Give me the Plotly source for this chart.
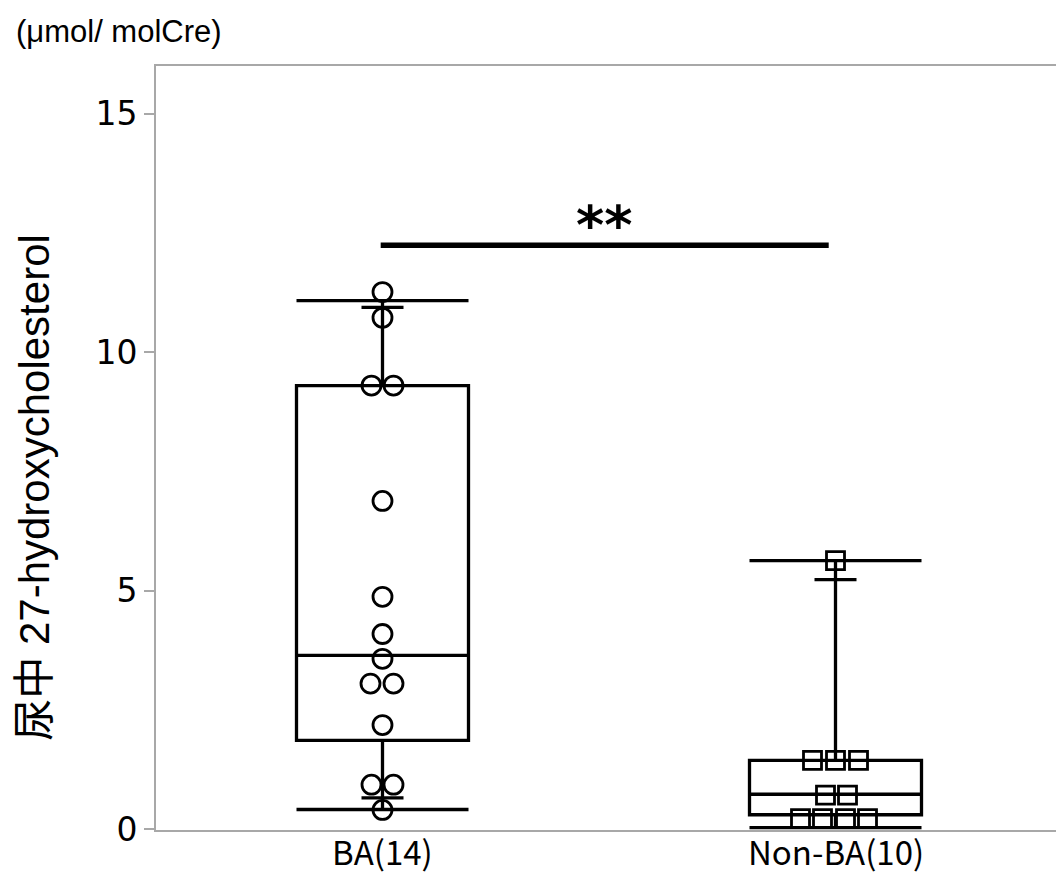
import plotly.graph_objects as go

# Groups and observed values (µmol/molCre)
categories = ["BA(14)", "Non-BA(10)"]
ba_values = [11.26, 10.72, 9.30, 9.30, 6.88, 4.87, 4.09, 3.57, 3.05, 3.05, 2.18, 0.93, 0.93, 0.40]
nonba_values = [5.63, 1.44, 1.44, 1.44, 0.71, 0.71, 0.22, 0.22, 0.22, 0.22]

# Box summaries per group
q1 = [1.86, 0.30]
median = [3.64, 0.73]
q3 = [9.30, 1.44]
lowerfence = [0.41, 0.03]
upperfence = [11.08, 5.63]

# Short quantile marks on the whiskers
ba_marks = [10.94, 0.655]
nonba_marks = [5.23]

# Significance bracket
sig_level = 12.24
sig_label = "**"

y_ticks = [0, 5, 10, 15]

# Layout geometry
W, H = 1056, 877
L, T, B = 156, 66, 46.5
PX_PER_CAT = 453.0
plot_w = W - L
plot_h = H - T - B
x_range = [-0.5, -0.5 + plot_w / PX_PER_CAT]

# Horizontal spread of overlapping points, in pixels
ba_spread_px = [0, 0, -11, 11, 0, 0, 0, 0, -12, 11, 0, -11, 11, 0]
nonba_spread_px = [0, -23, 0, 23, -10, 12, -35, -13, 10, 32]

BOX_W = 172 / PX_PER_CAT
MARK_W = 42 / PX_PER_CAT
LW = 3.3

fig = go.Figure()

for i in range(len(categories)):
    fig.add_trace(go.Box(
        x=[i], q1=[q1[i]], median=[median[i]], q3=[q3[i]],
        lowerfence=[lowerfence[i]], upperfence=[upperfence[i]],
        width=BOX_W, whiskerwidth=1,
        line=dict(color="black", width=LW),
        fillcolor="rgba(0,0,0,0)", boxpoints=False,
        showlegend=False, hoverinfo="skip",
    ))

def add_marks(center, levels):
    for v in levels:
        fig.add_trace(go.Scatter(
            x=[center - MARK_W / 2, center + MARK_W / 2], y=[v, v],
            mode="lines", line=dict(color="black", width=LW),
            showlegend=False, hoverinfo="skip",
        ))

add_marks(0, ba_marks)
add_marks(1, nonba_marks)

fig.add_trace(go.Scatter(
    x=[0 + d / PX_PER_CAT for d in ba_spread_px], y=ba_values,
    mode="markers",
    marker=dict(symbol="circle-open", size=19, color="black", line=dict(width=2.8, color="black")),
    showlegend=False,
))
fig.add_trace(go.Scatter(
    x=[1 + d / PX_PER_CAT for d in nonba_spread_px], y=nonba_values,
    mode="markers",
    marker=dict(symbol="square-open", size=18, color="black", line=dict(width=2.8, color="black")),
    showlegend=False,
))

# Significance bar and stars
fig.add_trace(go.Scatter(
    x=[-0.004, 0.985], y=[sig_level, sig_level],
    mode="lines", line=dict(color="black", width=5.5),
    showlegend=False, hoverinfo="skip",
))
fig.add_annotation(
    x=0.49, y=sig_level, xref="x", yref="y", text="<b>" + sig_label + "</b>",
    showarrow=False, yanchor="bottom", yshift=-14,
    font=dict(family="DejaVu Sans", size=54, color="black"),
)

# Unit label
fig.add_annotation(
    xref="paper", yref="paper", x=(14 - L) / plot_w, y=1 + (T - 31) / plot_h,
    text="(μmol/ molCre)", showarrow=False, xanchor="left", yanchor="middle",
    font=dict(family="Liberation Sans, Arial", size=31, color="black"),
)

# Y-axis title
fig.add_annotation(
    xref="paper", yref="paper", x=(35 - L) / plot_w, y=(H - B - 488) / plot_h,
    text="尿中 27-hydroxycholesterol", showarrow=False, textangle=-90,
    xanchor="center", yanchor="middle",
    font=dict(family="Liberation Sans, Noto Sans CJK JP", size=42, color="black"),
)

# Category labels under the axis
for i, name in enumerate(categories):
    fig.add_annotation(
        x=i, xref="x", yref="paper", y=(H - B - 852) / plot_h,
        text=name, showarrow=False, xanchor="center", yanchor="middle",
        font=dict(family="Noto Sans CJK JP", size=33, color="black"),
    )

fig.update_layout(
    width=W, height=H,
    margin=dict(l=L, r=0, t=T, b=B, pad=0),
    plot_bgcolor="white", paper_bgcolor="white",
    showlegend=False,
)
fig.update_xaxes(
    range=x_range, tickvals=[0, 1], showticklabels=False,
    showgrid=False, zeroline=False,
    showline=True, linecolor="#a8a8a8", linewidth=2, mirror=True,
    ticks="",
)
fig.update_yaxes(
    range=[-0.02, 16], tickvals=y_ticks,
    showgrid=False, zeroline=False,
    showline=True, linecolor="#a8a8a8", linewidth=2, mirror=False,
    ticks="outside", ticklen=10, tickwidth=1.5, tickcolor="#a8a8a8",
    tickfont=dict(family="DejaVu Sans", size=33, color="black"),
)

fig.write_html("out.html")
